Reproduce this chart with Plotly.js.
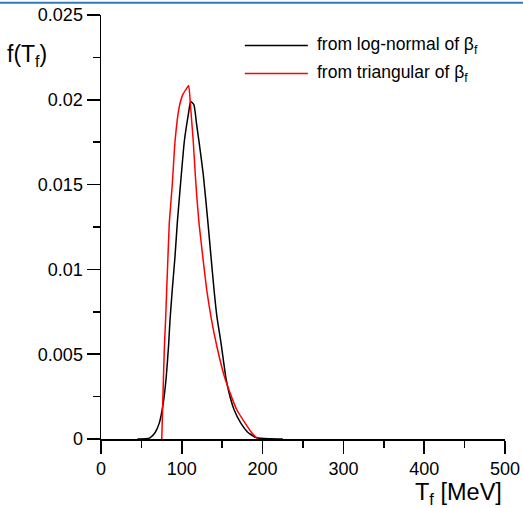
<!DOCTYPE html>
<html>
<head>
<meta charset="utf-8">
<script src="https://cdn.plot.ly/plotly-3.0.1.min.js"></script>
<style>html,body{margin:0;padding:0;background:#fff;}#chart{width:523px;height:508px;}</style>
</head>
<body>
<div id="chart"></div>
<script>
// Log-normal of beta_f (black)
const blackT = [45, 55, 60.6, 66.8, 72.2, 77.1, 80.8, 83.6, 85.4, 88.2, 91.6, 94.4, 97.8, 99.4, 103.1, 108, 111, 115, 118.4, 121.3, 126.6, 132.4, 136.1, 139.9, 143.5, 148.5, 154.3, 157.5, 164.6, 172.9, 182.3, 192.7, 209, 225];
const blackV = [0, 0.00001, 0.00007, 0.00037, 0.00095, 0.00213, 0.0037, 0.0055, 0.0070, 0.0088, 0.01077, 0.01273, 0.01469, 0.01558, 0.01754, 0.01911, 0.0199, 0.0197, 0.01852, 0.01754, 0.01558, 0.01273, 0.01077, 0.0088, 0.0072, 0.00567, 0.0037, 0.00292, 0.00174, 0.00095, 0.00037, 0.00007, 0.00001, 0];
// Triangular of beta_f (red)
const redT = [75.2, 76.4, 78.5, 80.1, 81.3, 82.9, 84.5, 88.2, 91.6, 96.5, 101.1, 105, 108.5, 111, 114.2, 116.7, 118.4, 121.3, 125.9, 130.8, 136.1, 143.2, 152.6, 159.7, 167.9, 178.2, 186.5, 194];
const redV = [0, 0.0021, 0.0055, 0.0072, 0.0088, 0.01077, 0.01273, 0.0150, 0.01754, 0.0195, 0.02029, 0.0206, 0.02084, 0.0195, 0.01754, 0.01558, 0.0144, 0.01273, 0.01077, 0.0088, 0.0072, 0.0055, 0.0037, 0.00272, 0.00174, 0.00095, 0.00037, 0];

const seriesNames = ['from log-normal of β<sub>f</sub>', 'from triangular of β<sub>f</sub>'];
const seriesColors = ['#000000', '#ff0000'];
const xTicks = [0, 100, 200, 300, 400, 500];
const yTicks = [0, 0.005, 0.01, 0.015, 0.02, 0.025];
const yTickText = ['0', '0.005', '0.01', '0.015', '0.02', '0.025'];

const FONT = 'Liberation Sans, Arial, sans-serif';

const traces = [
  {x: blackT, y: blackV, mode: 'lines', line: {color: seriesColors[0], width: 1.5, shape: 'spline', smoothing: 0.5}, showlegend: false, name: seriesNames[0]},
  {x: redT, y: redV, mode: 'lines', line: {color: seriesColors[1], width: 1.5, shape: 'spline', smoothing: 0.4}, showlegend: false, name: seriesNames[1]}
];

// legend drawn in paper coordinates
const shapes = [];
const annotations = [];
const legY = [0.928, 0.862];
for (let i = 0; i < 2; i++) {
  shapes.push({type: 'line', xref: 'paper', yref: 'paper', x0: 0.356, x1: 0.512, y0: legY[i], y1: legY[i], line: {color: seriesColors[i], width: 1.5}});
  annotations.push({xref: 'paper', yref: 'paper', x: 0.53, y: legY[i], xanchor: 'left', yanchor: 'middle', showarrow: false, text: seriesNames[i], font: {family: FONT, size: 17.5, color: '#000'}});
}
// top blue border
shapes.push({type: 'line', xref: 'paper', yref: 'paper', x0: -0.26, x1: 1.05, y0: 1.029, y1: 1.029, line: {color: '#2e7bbf', width: 2}});

annotations.push({xref: 'paper', yref: 'paper', x: -0.238, y: 0.905, xanchor: 'left', yanchor: 'middle', showarrow: false, text: 'f(T<sub>f</sub>)', font: {family: FONT, size: 23, color: '#000'}});
annotations.push({xref: 'paper', yref: 'paper', x: 0.997, y: -0.128, xanchor: 'right', yanchor: 'middle', showarrow: false, text: 'T<sub>f</sub> [MeV]', font: {family: FONT, size: 23.5, color: '#000'}});

const layout = {
  width: 523, height: 508,
  margin: {l: 101, r: 18, t: 15, b: 69, pad: 0},
  paper_bgcolor: '#fff', plot_bgcolor: '#fff',
  showlegend: false,
  font: {family: FONT, size: 18, color: '#000'},
  xaxis: {
    range: [0, 500], tickvals: xTicks, ticktext: xTicks.map(String),
    ticks: 'outside', ticklen: 13, tickwidth: 1.5, tickcolor: '#000',
    minor: {dtick: 50, ticks: 'outside', ticklen: 7, tickwidth: 1.5, tickcolor: '#000', showgrid: false},
    showline: true, linecolor: '#000', linewidth: 1.5, showgrid: false, zeroline: false,
    tickfont: {family: FONT, size: 18, color: '#000'}
  },
  yaxis: {
    range: [0, 0.025], tickvals: yTicks, ticktext: yTickText,
    ticks: 'outside', ticklen: 13, tickwidth: 1.5, tickcolor: '#000',
    minor: {dtick: 0.0025, ticks: 'outside', ticklen: 7, tickwidth: 1.5, tickcolor: '#000', showgrid: false},
    showline: true, linecolor: '#000', linewidth: 1.5, showgrid: false, zeroline: false,
    tickfont: {family: FONT, size: 18, color: '#000'}
  },
  shapes: shapes,
  annotations: annotations
};

Plotly.newPlot('chart', traces, layout, {displayModeBar: false, staticPlot: true});
</script>
</body>
</html>
